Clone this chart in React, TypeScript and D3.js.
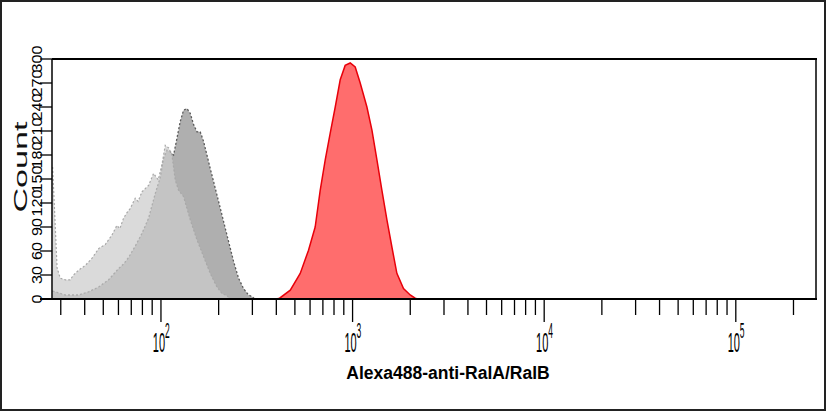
import React from "react";
import * as d3 from "d3";

// Fluorescence (Alexa488) vs Count
const redX = [400, 416, 473, 533, 589, 638, 678, 720, 764, 812, 862, 915, 972, 1032, 1096, 1188, 1262, 1340, 1422, 1511, 1604, 1703, 1844, 1999, 2122, 2180];
const redY = [0, 1, 11, 32, 61, 90, 136, 174, 207, 240, 274, 292, 295, 290, 270, 240, 211, 174, 136, 99, 65, 32, 13, 5, 1, 0];

const darkX = [27.2, 31.7, 37.2, 41.9, 47.3, 53.3, 60.1, 64, 67.8, 73.4, 79.6, 86.2, 93.4, 99.2, 103.2, 107.5, 111.8, 116.4, 121.2, 126.1, 131.2, 136.7, 142.2, 148.0, 154.1, 160.3, 166.9, 173.8, 180.8, 188.1, 199.8, 212.2, 225.3, 239.3, 254.1, 269.8, 286.4, 298.5, 309];
const darkY = [10, 5, 5, 9, 15, 24, 38, 44, 52, 66, 82, 101, 132, 152, 176, 186, 184, 180, 201, 222, 236, 238, 232, 218, 209, 209, 197, 180, 163, 147, 122, 97, 72, 47, 26, 13, 5, 3, 0];

const lightX = [27.2, 28.1, 28.7, 29.8, 31.7, 33.6, 35.0, 37.2, 40.3, 43.7, 47.3, 51.2, 55.5, 58.9, 61, 63.8, 66.5, 69.1, 73.4, 76, 79.6, 86.2, 89, 91.5, 96.8, 101.2, 105.3, 109.6, 114.1, 118.7, 123.5, 131.2, 142.2, 154.1, 166.9, 180.8, 196.0, 208.1, 221.0, 229.9];
const lightY = [165, 89, 39, 26, 24, 24, 30, 36, 42, 51, 63, 68, 80, 92, 88, 101, 108, 113, 126, 122, 134, 142, 150, 157, 149, 168, 192, 189, 180, 149, 136, 128, 99, 74, 53, 32, 15, 7, 4, 0];

const majorTicks = [100, 1000, 10000, 100000];
const majorExp = ["2", "3", "4", "5"];
const minorTicks = [30, 40, 50, 60, 70, 80, 90, 200, 300, 400, 500, 600, 700, 800, 900, 2000, 3000, 4000, 5000, 6000, 7000, 8000, 9000, 20000, 30000, 40000, 50000, 60000, 70000, 80000, 90000, 200000];
const yTicks = [0, 30, 60, 90, 120, 150, 180, 210, 240, 270, 300];

const W = 826, H = 413;
const L = 52, R = 816, T = 59, B = 299;

export default function App() {
  const x = d3.scaleLog().domain([27, 262144]).range([L, R]);
  const y = d3.scaleLinear().domain([0, 300]).range([B, T]);

  const mk = (xs: number[], ys: number[]) => xs.map((v, i) => [v, ys[i]] as [number, number]);
  const area = d3.area<[number, number]>().x(d => x(d[0])).y0(y(0)).y1(d => y(d[1]));
  const line = d3.line<[number, number]>().x(d => x(d[0])).y(d => y(d[1]));

  const red = mk(redX, redY), dark = mk(darkX, darkY), light = mk(lightX, lightY);

  return (
    <svg width={W} height={H} style={{ position: "absolute", left: 0, top: 0, background: "#fff" }}
      fontFamily="'Liberation Sans', Arial, sans-serif">
      <defs>
        <clipPath id="plot"><rect x={L} y={T} width={R - L} height={B - T} /></clipPath>
      </defs>
      <rect x={1} y={1} width={W - 2} height={H - 4} fill="none" stroke="#222" strokeWidth={2} />

      <g clipPath="url(#plot)">
        <path d={area(dark)!} fill="#afafaf" />
        <path d={line(dark)!} fill="none" stroke="#5a5a5a" strokeWidth={1.3} strokeDasharray="2,2" />
        <path d={area(light)!} fill="#cccccc" fillOpacity={0.72} />
        <path d={line(light)!} fill="none" stroke="#a8a8a8" strokeWidth={1.2} strokeDasharray="2,2" />
        <path d={area(red)!} fill="#ff6d6d" />
        <path d={line(red)!} fill="none" stroke="#e8000a" strokeWidth={1.5} />
      </g>

      {/* frame */}
      <line x1={L} x2={R + 1} y1={T} y2={T} stroke="#000" strokeWidth={2} />
      <line x1={R} x2={R} y1={T} y2={B} stroke="#000" strokeWidth={1.5} />
      <line x1={L} x2={L} y1={T} y2={B} stroke="#000" strokeWidth={1.5} />
      <line x1={40} x2={R + 1} y1={B} y2={B} stroke="#000" strokeWidth={2} />

      {/* y axis */}
      {yTicks.map(t => (
        <g key={"y" + t}>
          <line x1={40} x2={L} y1={y(t)} y2={y(t)} stroke="#000" strokeWidth={1.3} />
          <text transform={`translate(42,${y(t)}) rotate(-90) scale(1.15,1)`} textAnchor="middle" fontSize={14} fill="#000">{t}</text>
        </g>
      ))}
      <text transform={`translate(27,167) rotate(-90) scale(1.9,1)`} textAnchor="middle" fontSize={18} fill="#111">Count</text>

      {/* x axis */}
      {minorTicks.map(t => (
        <line key={"m" + t} x1={x(t)} x2={x(t)} y1={B} y2={B + 16} stroke="#000" strokeWidth={1.3} />
      ))}
      {majorTicks.map((t, i) => (
        <g key={"M" + t}>
          <line x1={x(t)} x2={x(t)} y1={B} y2={B + 23} stroke="#000" strokeWidth={1.3} />
          <text transform={`translate(${x(t) - 2},352) scale(1,2.5)`} textAnchor="middle" fontSize={11} fill="#000">10</text>
          <text transform={`translate(${x(t) + 4},338) scale(1,2.5)`} textAnchor="start" fontSize={8.5} fill="#000">{majorExp[i]}</text>
        </g>
      ))}
      <text x={448} y={379} textAnchor="middle" fontSize={17.5} fontWeight="bold" fill="#000">Alexa488-anti-RalA/RalB</text>
    </svg>
  );
}
